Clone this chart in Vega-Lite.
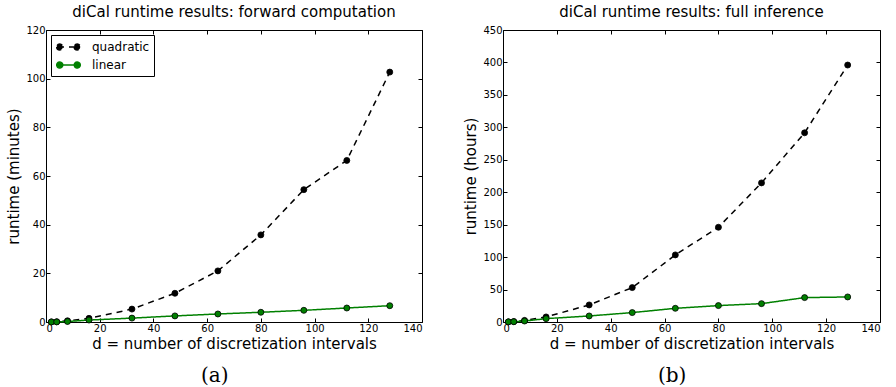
{
  "$schema": "https://vega.github.io/schema/vega-lite/v6.json",
  "background": "white",
  "padding": {"left": 6, "top": 4, "right": 4, "bottom": 0},
  "config": {
    "view": {"stroke": "black", "strokeWidth": 1},
    "axis": {
      "grid": false, "domain": false, "tickColor": "black", "tickSize": -4, "tickWidth": 1,
      "labelFont": "DejaVu Sans", "labelFontSize": 10, "labelColor": "black", "labelPadding": 5,
      "titleFont": "DejaVu Sans", "titleFontSize": 15, "titleFontWeight": "normal", "titleColor": "black"
    },
    "title": {"font": "DejaVu Sans", "fontSize": 15, "fontWeight": "normal", "color": "black", "offset": 5},
    "legend": {
      "orient": "top-left", "offset": 5, "strokeColor": "black", "fillColor": "white", "padding": 4,
      "cornerRadius": 0, "labelFont": "DejaVu Sans", "labelFontSize": 12, "labelColor": "black",
      "symbolType": "M-1.5,0H1.5M-1.68,0a0.43,0.43 0 1,0 0.86,0a0.43,0.43 0 1,0 -0.86,0M0.82,0a0.43,0.43 0 1,0 0.86,0a0.43,0.43 0 1,0 -0.86,0",
      "symbolSize": 196, "symbolStrokeWidth": 1.5, "symbolOffset": 5.5, "rowPadding": 3, "labelOffset": 15.5
    }
  },
  "datasets": {
    "runs": [
      {"panel": "a", "series": "quadratic", "d": 2, "runtime": 0.05},
      {"panel": "a", "series": "quadratic", "d": 4, "runtime": 0.1},
      {"panel": "a", "series": "quadratic", "d": 8, "runtime": 0.5},
      {"panel": "a", "series": "quadratic", "d": 16, "runtime": 1.5},
      {"panel": "a", "series": "quadratic", "d": 32, "runtime": 5.3},
      {"panel": "a", "series": "quadratic", "d": 48, "runtime": 11.8},
      {"panel": "a", "series": "quadratic", "d": 64, "runtime": 21.0},
      {"panel": "a", "series": "quadratic", "d": 80, "runtime": 35.8},
      {"panel": "a", "series": "quadratic", "d": 96, "runtime": 54.4},
      {"panel": "a", "series": "quadratic", "d": 112, "runtime": 66.4},
      {"panel": "a", "series": "quadratic", "d": 128, "runtime": 102.7},
      {"panel": "a", "series": "linear", "d": 2, "runtime": 0.02},
      {"panel": "a", "series": "linear", "d": 4, "runtime": 0.05},
      {"panel": "a", "series": "linear", "d": 8, "runtime": 0.2},
      {"panel": "a", "series": "linear", "d": 16, "runtime": 0.8},
      {"panel": "a", "series": "linear", "d": 32, "runtime": 1.6},
      {"panel": "a", "series": "linear", "d": 48, "runtime": 2.5},
      {"panel": "a", "series": "linear", "d": 64, "runtime": 3.3},
      {"panel": "a", "series": "linear", "d": 80, "runtime": 4.0},
      {"panel": "a", "series": "linear", "d": 96, "runtime": 4.8},
      {"panel": "a", "series": "linear", "d": 112, "runtime": 5.75},
      {"panel": "a", "series": "linear", "d": 128, "runtime": 6.7},
      {"panel": "b", "series": "quadratic", "d": 2, "runtime": 0.2},
      {"panel": "b", "series": "quadratic", "d": 4, "runtime": 0.6},
      {"panel": "b", "series": "quadratic", "d": 8, "runtime": 2.5},
      {"panel": "b", "series": "quadratic", "d": 16, "runtime": 7.8},
      {"panel": "b", "series": "quadratic", "d": 32, "runtime": 26.3},
      {"panel": "b", "series": "quadratic", "d": 48, "runtime": 53},
      {"panel": "b", "series": "quadratic", "d": 64, "runtime": 103.4},
      {"panel": "b", "series": "quadratic", "d": 80, "runtime": 146},
      {"panel": "b", "series": "quadratic", "d": 96, "runtime": 214.4},
      {"panel": "b", "series": "quadratic", "d": 112, "runtime": 291.6},
      {"panel": "b", "series": "quadratic", "d": 128, "runtime": 396},
      {"panel": "b", "series": "linear", "d": 2, "runtime": 0.2},
      {"panel": "b", "series": "linear", "d": 4, "runtime": 0.5},
      {"panel": "b", "series": "linear", "d": 8, "runtime": 1.5},
      {"panel": "b", "series": "linear", "d": 16, "runtime": 5.2},
      {"panel": "b", "series": "linear", "d": 32, "runtime": 9.3},
      {"panel": "b", "series": "linear", "d": 48, "runtime": 14.5},
      {"panel": "b", "series": "linear", "d": 64, "runtime": 21.1},
      {"panel": "b", "series": "linear", "d": 80, "runtime": 25.3},
      {"panel": "b", "series": "linear", "d": 96, "runtime": 28.3},
      {"panel": "b", "series": "linear", "d": 112, "runtime": 37.6},
      {"panel": "b", "series": "linear", "d": 128, "runtime": 38.6}
    ]
  },
  "spacing": 40,
  "hconcat": [
    {
      "title": {"text": "(a)", "orient": "bottom", "anchor": "middle", "font": "DejaVu Serif", "fontSize": 20, "offset": 14},
      "vconcat": [
        {
          "width": 376, "height": 292,
          "title": {"text": "diCal runtime results: forward computation"},
          "data": {"name": "runs"},
          "transform": [{"filter": "datum.panel === 'a'"}],
          "layer": [
            {
              "mark": {"type": "line", "strokeWidth": 1.5},
              "encoding": {
                "x": {"field": "d", "type": "quantitative", "scale": {"domain": [0, 140], "nice": false}, "axis": {"orient": "bottom", "values": [0, 20, 40, 60, 80, 100, 120, 140], "title": "d = number of discretization intervals", "titlePadding": 3}},
                "y": {"field": "runtime", "type": "quantitative", "scale": {"domain": [0, 120], "nice": false}, "axis": {"orient": "left", "values": [0, 20, 40, 60, 80, 100, 120], "title": "runtime (minutes)", "titlePadding": 4}},
                "color": {"field": "series", "type": "nominal", "scale": {"domain": ["quadratic", "linear"], "range": ["#000000", "#008000"]}, "legend": {"title": null}},
                "strokeDash": {"field": "series", "type": "nominal", "scale": {"domain": ["quadratic", "linear"], "range": [[6, 5], [1, 0]]}, "legend": {"title": null}}
              }
            },
            {
              "mark": {"type": "point", "filled": true, "size": 36, "stroke": "black", "strokeWidth": 0.8, "opacity": 1},
              "encoding": {
                "x": {"field": "d", "type": "quantitative", "axis": {"orient": "top", "values": [0, 20, 40, 60, 80, 100, 120, 140], "labels": false, "title": null}},
                "y": {"field": "runtime", "type": "quantitative", "axis": {"orient": "right", "values": [0, 20, 40, 60, 80, 100, 120], "labels": false, "title": null}},
                "color": {"field": "series", "type": "nominal", "legend": {"title": null}}
              }
            }
          ]
        }
      ]
    },
    {
      "title": {"text": "(b)", "orient": "bottom", "anchor": "middle", "font": "DejaVu Serif", "fontSize": 20, "offset": 14},
      "vconcat": [
        {
          "width": 377, "height": 292,
          "title": {"text": "diCal runtime results: full inference"},
          "data": {"name": "runs"},
          "transform": [{"filter": "datum.panel === 'b'"}],
          "layer": [
            {
              "mark": {"type": "line", "strokeWidth": 1.5},
              "encoding": {
                "x": {"field": "d", "type": "quantitative", "scale": {"domain": [0, 140], "nice": false}, "axis": {"orient": "bottom", "values": [0, 20, 40, 60, 80, 100, 120, 140], "title": "d = number of discretization intervals", "titlePadding": 3}},
                "y": {"field": "runtime", "type": "quantitative", "scale": {"domain": [0, 450], "nice": false}, "axis": {"orient": "left", "values": [0, 50, 100, 150, 200, 250, 300, 350, 400, 450], "title": "runtime (hours)", "titlePadding": 4}},
                "color": {"field": "series", "type": "nominal", "scale": {"domain": ["quadratic", "linear"], "range": ["#000000", "#008000"]}, "legend": {"title": null}},
                "strokeDash": {"field": "series", "type": "nominal", "scale": {"domain": ["quadratic", "linear"], "range": [[6, 5], [1, 0]]}, "legend": {"title": null}}
              }
            },
            {
              "mark": {"type": "point", "filled": true, "size": 36, "stroke": "black", "strokeWidth": 0.8, "opacity": 1},
              "encoding": {
                "x": {"field": "d", "type": "quantitative", "axis": {"orient": "top", "values": [0, 20, 40, 60, 80, 100, 120, 140], "labels": false, "title": null}},
                "y": {"field": "runtime", "type": "quantitative", "axis": {"orient": "right", "values": [0, 50, 100, 150, 200, 250, 300, 350, 400, 450], "labels": false, "title": null}},
                "color": {"field": "series", "type": "nominal", "legend": {"title": null}}
              }
            }
          ]
        }
      ]
    }
  ]
}
